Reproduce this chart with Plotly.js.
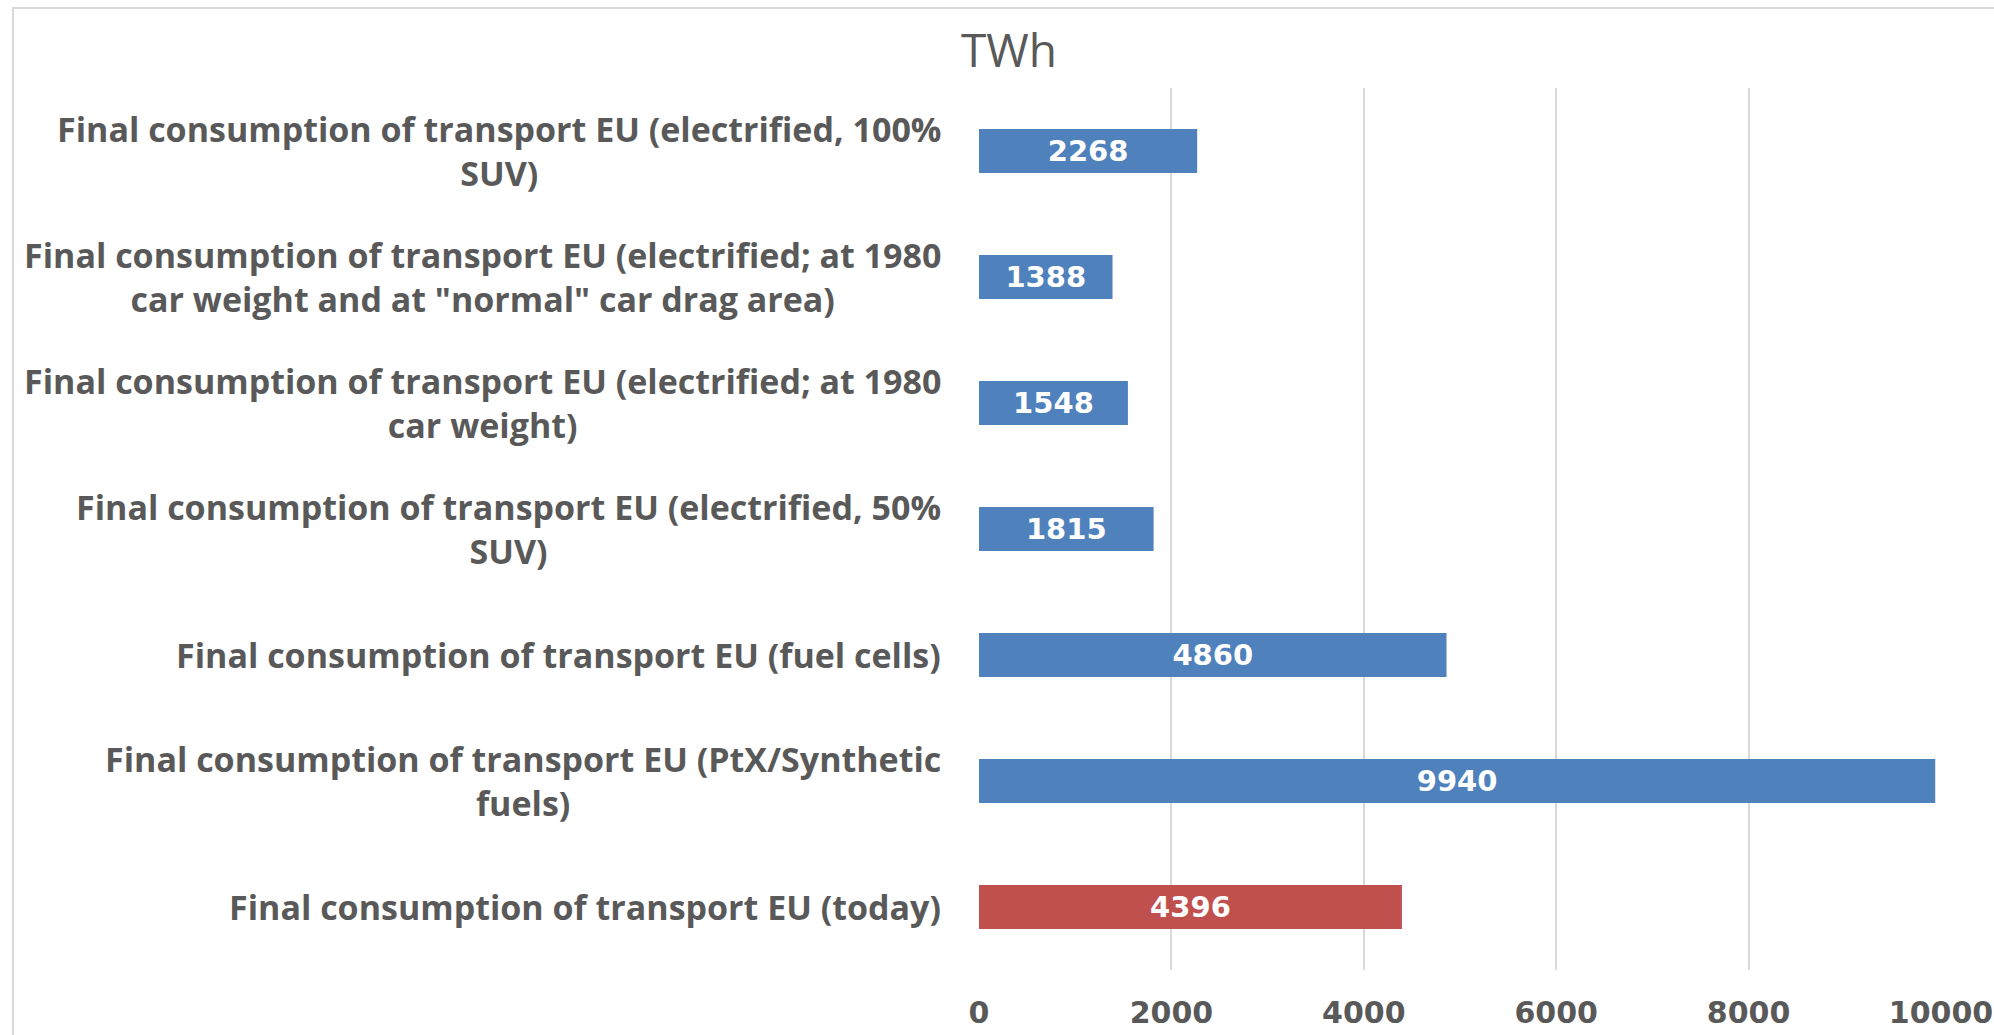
<!DOCTYPE html>
<html>
<head>
<meta charset="utf-8">
<script src="https://cdn.plot.ly/plotly-3.0.1.min.js"></script>
<style>
  body { margin: 0; background: #fff; }
  #chart { width: 1994px; height: 1035px; }
  .frame {
    position: absolute; left: 12px; top: 7px; width: 2100px; height: 1100px;
    border-left: 2px solid #d9d9d9; border-top: 2px solid #d9d9d9;
    pointer-events: none;
  }
</style>
</head>
<body>
<div id="chart"></div>
<div class="frame"></div>
<script>
// categories, top to bottom
const categories = [
  'Final consumption of transport EU (electrified, 100%<br>SUV)',
  'Final consumption of transport EU (electrified; at 1980<br>car weight and at "normal" car drag area)',
  'Final consumption of transport EU (electrified; at 1980<br>car weight)',
  'Final consumption of transport EU (electrified, 50%<br>SUV)',
  'Final consumption of transport EU (fuel cells)',
  'Final consumption of transport EU (PtX/Synthetic<br>fuels)',
  'Final consumption of transport EU (today)'
];
const values = [2268, 1388, 1548, 1815, 4860, 9940, 4396];
const barColors = ['#4f81bd', '#4f81bd', '#4f81bd', '#4f81bd', '#4f81bd', '#4f81bd', '#c0504d'];
const xTicks = [0, 2000, 4000, 6000, 8000, 10000];

const labelFont = { family: '"Open Sans", sans-serif', size: 34, color: '#595959', weight: 'bold' };
const numberFont = { family: '"DejaVu Sans", sans-serif', size: 30, color: '#595959', weight: 'bold' };

const trace = {
  type: 'bar',
  orientation: 'h',
  x: values,
  y: categories,
  width: 0.35,
  marker: { color: barColors },
  text: values.map(String),
  textposition: 'inside',
  insidetextanchor: 'middle',
  textangle: 0,
  constraintext: 'none',
  textfont: { family: '"DejaVu Sans", sans-serif', size: 29, color: '#ffffff', weight: 'bold' },
  hoverinfo: 'x+y'
};

// category labels, centred multi-line like the original
const annotations = categories.map(c => ({
  xref: 'paper', yref: 'y',
  x: 0, y: c,
  xanchor: 'right', yanchor: 'middle',
  xshift: -36,
  align: 'center',
  text: c,
  showarrow: false,
  font: labelFont
}));

const layout = {
  width: 1994,
  height: 1035,
  margin: { l: 979, r: 53, t: 88, b: 65 },
  paper_bgcolor: '#ffffff',
  plot_bgcolor: '#ffffff',
  showlegend: false,
  title: {
    text: 'TWh',
    xref: 'container', x: 0.506,
    yref: 'container', y: 0.951, yanchor: 'middle',
    font: { family: '"Open Sans", sans-serif', size: 46, color: '#595959' }
  },
  xaxis: {
    range: [0, 10000],
    tickvals: xTicks,
    ticktext: xTicks.map(String),
    showgrid: true,
    gridcolor: '#d9d9d9',
    gridwidth: 2,
    zeroline: false,
    showline: false,
    ticks: '',
    ticklabelstandoff: 22,
    tickfont: numberFont,
    fixedrange: true
  },
  yaxis: {
    autorange: 'reversed',
    showticklabels: false,
    showgrid: false,
    zeroline: false,
    showline: false,
    ticks: '',
    fixedrange: true
  },
  annotations: annotations
};

Plotly.newPlot('chart', [trace], layout, { displayModeBar: false, staticPlot: true });
</script>
</body>
</html>
